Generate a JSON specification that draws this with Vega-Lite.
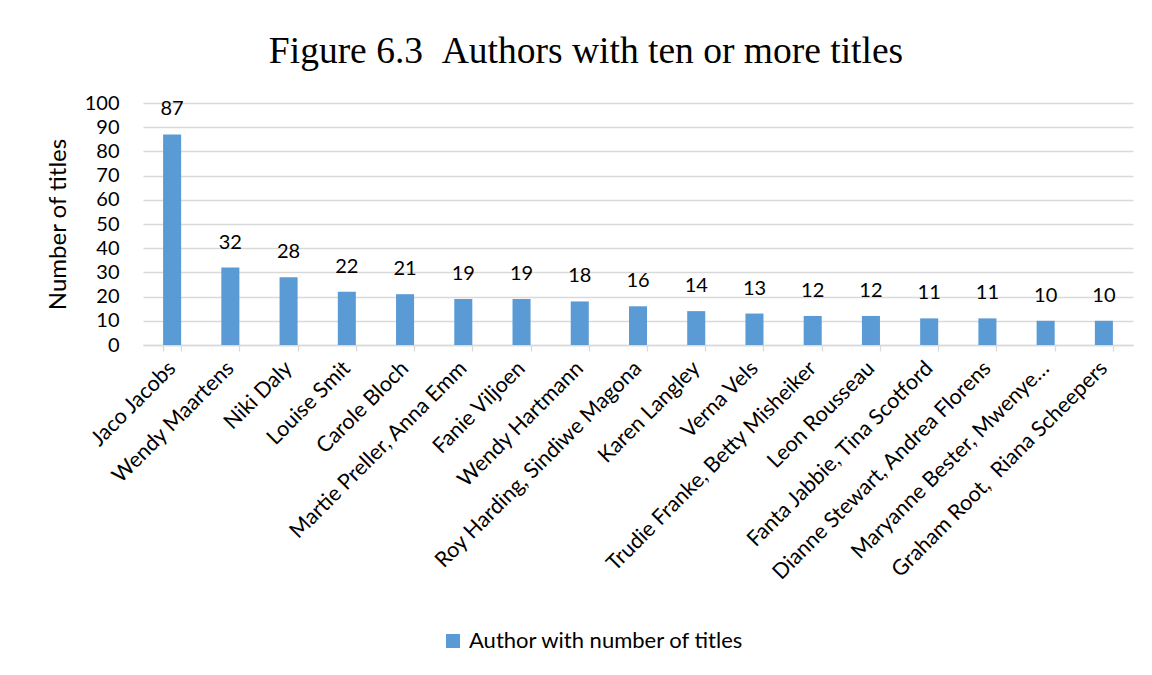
{
  "$schema": "https://vega.github.io/schema/vega-lite/v6.json",
  "autosize": {"type": "none"},
  "width": 990,
  "height": 242,
  "padding": {"left": 143, "top": 103, "right": 19, "bottom": 330},
  "background": "white",
  "title": {
    "text": "Figure 6.3 \u00a0Authors with ten or more titles",
    "font": "Liberation Serif",
    "fontSize": 37.5,
    "fontWeight": "normal",
    "color": "#000000",
    "anchor": "middle",
    "frame": "group",
    "dx": -52,
    "offset": 23
  },
  "data": {
    "values": [
      {"author": "Jaco Jacobs", "titles": 87},
      {"author": "Wendy Maartens", "titles": 32},
      {"author": "Niki Daly", "titles": 28},
      {"author": "Louise Smit", "titles": 22},
      {"author": "Carole Bloch", "titles": 21},
      {"author": "Martie Preller, Anna Emm", "titles": 19},
      {"author": "Fanie Viljoen", "titles": 19},
      {"author": "Wendy Hartmann", "titles": 18},
      {"author": "Roy Harding, Sindiwe Magona", "titles": 16},
      {"author": "Karen Langley", "titles": 14},
      {"author": "Verna Vels", "titles": 13},
      {"author": "Trudie Franke, Betty Misheiker", "titles": 12},
      {"author": "Leon Rousseau", "titles": 12},
      {"author": "Fanta Jabbie, Tina Scotford", "titles": 11},
      {"author": "Dianne Stewart, Andrea Florens", "titles": 11},
      {"author": "Maryanne Bester, Mwenye…", "titles": 10},
      {"author": "Graham Root, \u00a0Riana Scheepers", "titles": 10}
    ]
  },
  "encoding": {
    "x": {
      "field": "author",
      "type": "nominal",
      "sort": null,
      "scale": {"paddingInner": 0.69, "paddingOuter": 0.345},
      "axis": {
        "title": null,
        "labelAngle": -45,
        "labelAlign": "right",
        "labelBaseline": "middle",
        "labelFont": "Lato",
        "labelFontSize": 21.5,
        "labelColor": "#000000",
        "labelPadding": 14,
        "labelLimit": 500,
        "domainColor": "#D9D9D9",
        "domainWidth": 1.3,
        "tickColor": "#D9D9D9",
        "tickWidth": 1.3,
        "tickSize": 6,
        "tickBand": "extent",
        "grid": false
      }
    },
    "y": {
      "field": "titles",
      "type": "quantitative",
      "scale": {"domain": [0, 100], "nice": false},
      "axis": {
        "title": "Number of titles",
        "titleFont": "Lato",
        "titleFontSize": 24,
        "titleFontWeight": "normal",
        "titleColor": "#000000",
        "titlePadding": 14,
        "values": [0, 10, 20, 30, 40, 50, 60, 70, 80, 90, 100],
        "labelFont": "Lato",
        "labelFontSize": 20,
        "labelColor": "#000000",
        "labelPadding": 24,
        "domain": false,
        "ticks": false,
        "gridColor": "#D9D9D9",
        "gridWidth": 1.3
      }
    }
  },
  "layer": [
    {
      "mark": {"type": "bar"},
      "encoding": {
        "color": {
          "datum": "Author with number of titles",
          "type": "nominal",
          "scale": {"range": ["#5B9BD5"]},
          "legend": {
            "title": null,
            "orient": "none",
            "legendX": 299,
            "legendY": 527,
            "direction": "horizontal",
            "symbolType": "square",
            "symbolSize": 196,
            "symbolStrokeWidth": 0,
            "labelFont": "Lato",
            "labelFontSize": 22,
            "labelColor": "#000000",
            "labelLimit": 500,
            "labelOffset": 5
          }
        }
      }
    },
    {
      "mark": {"type": "text", "baseline": "alphabetic", "dy": -19, "font": "Lato", "fontSize": 20, "color": "#000000"},
      "encoding": {"text": {"field": "titles", "type": "quantitative"}}
    }
  ],
  "config": {"view": {"stroke": null}}
}
